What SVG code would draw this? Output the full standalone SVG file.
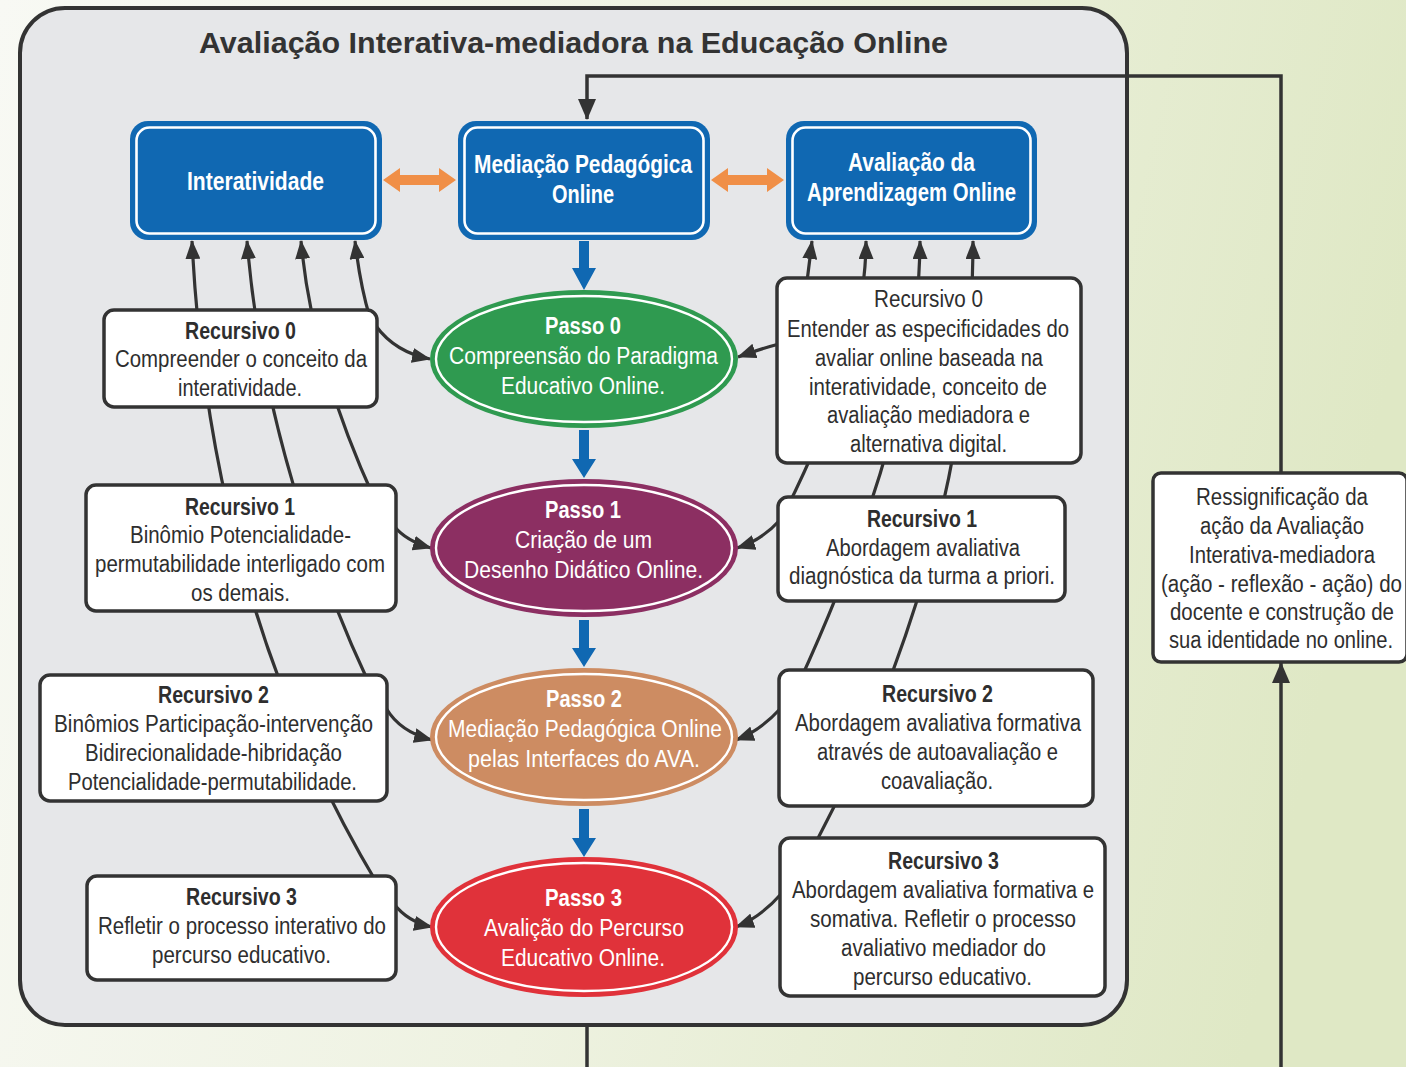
<svg xmlns="http://www.w3.org/2000/svg" width="1406" height="1067" viewBox="0 0 1406 1067">
<defs>
<linearGradient id="bg" gradientUnits="userSpaceOnUse" x1="0" y1="0" x2="1406" y2="300">
<stop offset="0" stop-color="#f8f9f4"/>
<stop offset="0.5" stop-color="#eef2e1"/>
<stop offset="1" stop-color="#dfe8c5"/>
</linearGradient>
<marker id="ah" markerUnits="userSpaceOnUse" viewBox="0 0 19 15" markerWidth="19" markerHeight="15" refX="18" refY="7.5" orient="auto"><path d="M0,0 L19,7.5 L0,15 z" fill="#333"/></marker>
<marker id="ahL" markerUnits="userSpaceOnUse" viewBox="0 0 21 18" markerWidth="21" markerHeight="18" refX="20" refY="9" orient="auto"><path d="M0,0 L21,9 L0,18 z" fill="#333"/></marker>
<style>
.t{font-family:"Liberation Sans Narrow","Liberation Sans",Arial,sans-serif;font-size:23px;fill:#2e2e2e}
.b{font-weight:bold}
.w{fill:#ffffff}
.hd{font-size:25px;font-weight:bold;fill:#ffffff}
.box{fill:#ffffff;stroke:#333333;stroke-width:3.5}
.blue{fill:#1068b2}
.inner{fill:none;stroke:#ffffff;stroke-width:2.6}
.con{fill:none;stroke:#333333;stroke-width:3.2}
.fb{fill:none;stroke:#333333;stroke-width:3.5}
.barrow{fill:#1068b2}
.oarrow{fill:#f08f47}
</style>
</defs>
<rect x="0" y="0" width="1406" height="1067" fill="url(#bg)"/>
<rect id="frame" x="20" y="8" width="1107" height="1017" rx="45" ry="45" fill="#e6e7e9" stroke="#333333" stroke-width="4"/>
<text class="t b" x="199" y="53" style="font-size:29px;fill:#333" textLength="749" lengthAdjust="spacingAndGlyphs">Avaliação Interativa-mediadora na Educação Online</text>

<g id="connectors">
<path class="fb" d="M1281,473 L1281,76 L587,76 L587,119" marker-end="url(#ahL)"/>
<path class="fb" d="M587,1025 L587,1067"/>
<path class="fb" d="M1281,1067 L1281,663" marker-end="url(#ahL)"/>
<path class="con" d="M378,885 Q210,605 192,241" marker-end="url(#ah)"/>
<path class="con" d="M372,690 Q265,462 247,241" marker-end="url(#ah)"/>
<path class="con" d="M375,500 Q312,363 301,241" marker-end="url(#ah)"/>
<path class="con" d="M370,318 Q360,285 355,241" marker-end="url(#ah)"/>
<path class="con" d="M376,326 Q395,352 430,359" marker-end="url(#ah)"/>
<path class="con" d="M394,526 Q406,541 431,548" marker-end="url(#ah)"/>
<path class="con" d="M386,708 Q400,732 432,740" marker-end="url(#ah)"/>
<path class="con" d="M394,904 Q408,922 432,927" marker-end="url(#ah)"/>
<path class="con" d="M812,850 Q973,546 973,241" marker-end="url(#ah)"/>
<path class="con" d="M798,685 Q920,420 920,241" marker-end="url(#ah)"/>
<path class="con" d="M786,510 Q866,350 866,241" marker-end="url(#ah)"/>
<path class="con" d="M806,290 L812,241" marker-end="url(#ah)"/>
<path class="con" d="M779,344 Q760,349 738,357" marker-end="url(#ah)"/>
<path class="con" d="M780,520 Q762,540 737,548" marker-end="url(#ah)"/>
<path class="con" d="M781,708 Q760,731 736,740" marker-end="url(#ah)"/>
<path class="con" d="M782,893 Q760,918 736,927" marker-end="url(#ah)"/>
<polygon class="barrow" points="579,241 589,241 589,268 596,268 584,290 572,268 579,268"/>
<polygon class="barrow" points="579,430 589,430 589,459 596,459 584,478 572,459 579,459"/>
<polygon class="barrow" points="579,620 589,620 589,648 596,648 584,667 572,648 579,648"/>
<polygon class="barrow" points="579,809 589,809 589,838 596,838 584,857 572,838 579,838"/>
<polygon class="oarrow" points="383,180 400,168 400,175 439,175 439,168 456,180 439,192 439,185 400,185 400,192"/>
<polygon class="oarrow" points="711,180 728,168 728,175 767,175 767,168 784,180 767,192 767,185 728,185 728,192"/>
</g>

<g id="interatividade">
<rect class="blue" x="130" y="121" width="252" height="119" rx="18"/>
<rect class="inner" x="136.5" y="127.5" width="239" height="106" rx="13"/>
<text class="t hd" x="187" y="190" textLength="137" lengthAdjust="spacingAndGlyphs">Interatividade</text>
</g>
<g id="mediacao">
<rect class="blue" x="458" y="121" width="252" height="119" rx="18"/>
<rect class="inner" x="464.5" y="127.5" width="239" height="106" rx="13"/>
<text class="t hd" x="474" y="173" textLength="218" lengthAdjust="spacingAndGlyphs">Mediação Pedagógica</text>
<text class="t hd" x="552" y="203" textLength="62" lengthAdjust="spacingAndGlyphs">Online</text>
</g>
<g id="avaliacao">
<rect class="blue" x="786" y="121" width="251" height="119" rx="18"/>
<rect class="inner" x="792.5" y="127.5" width="238" height="106" rx="13"/>
<text class="t hd" x="848" y="171" textLength="127" lengthAdjust="spacingAndGlyphs">Avaliação da</text>
<text class="t hd" x="807" y="201" textLength="209" lengthAdjust="spacingAndGlyphs">Aprendizagem Online</text>
</g>

<g id="passo0">
<ellipse cx="584" cy="359" rx="154" ry="69" fill="#2f9a50"/>
<ellipse cx="584" cy="359" rx="148" ry="63" fill="none" stroke="#fff" stroke-width="2.4"/>
<text class="t b w" x="545" y="334" textLength="76" lengthAdjust="spacingAndGlyphs">Passo 0</text>
<text class="t w" x="449" y="364" textLength="269" lengthAdjust="spacingAndGlyphs">Compreensão do Paradigma</text>
<text class="t w" x="501" y="394" textLength="164" lengthAdjust="spacingAndGlyphs">Educativo Online.</text>
</g>
<g id="passo1">
<ellipse cx="584" cy="548" rx="154" ry="69" fill="#8c2f62"/>
<ellipse cx="584" cy="548" rx="148" ry="63" fill="none" stroke="#fff" stroke-width="2.4"/>
<text class="t b w" x="545" y="518" textLength="76" lengthAdjust="spacingAndGlyphs">Passo 1</text>
<text class="t w" x="515" y="548" textLength="137" lengthAdjust="spacingAndGlyphs">Criação de um</text>
<text class="t w" x="464" y="578" textLength="239" lengthAdjust="spacingAndGlyphs">Desenho Didático Online.</text>
</g>
<g id="passo2">
<ellipse cx="584" cy="737" rx="154" ry="69" fill="#cd8c62"/>
<ellipse cx="584" cy="737" rx="148" ry="63" fill="none" stroke="#fff" stroke-width="2.4"/>
<text class="t b w" x="546" y="707" textLength="76" lengthAdjust="spacingAndGlyphs">Passo 2</text>
<text class="t w" x="448" y="737" textLength="274" lengthAdjust="spacingAndGlyphs">Mediação Pedagógica Online</text>
<text class="t w" x="468" y="767" textLength="232" lengthAdjust="spacingAndGlyphs">pelas Interfaces do AVA.</text>
</g>
<g id="passo3">
<ellipse cx="584" cy="927" rx="154" ry="70" fill="#e0323a"/>
<ellipse cx="584" cy="927" rx="148" ry="64" fill="none" stroke="#fff" stroke-width="2.4"/>
<text class="t b w" x="545" y="906" textLength="77" lengthAdjust="spacingAndGlyphs">Passo 3</text>
<text class="t w" x="484" y="936" textLength="200" lengthAdjust="spacingAndGlyphs">Avalição do Percurso</text>
<text class="t w" x="501" y="966" textLength="164" lengthAdjust="spacingAndGlyphs">Educativo Online.</text>
</g>

<g id="rec0-left">
<rect class="box" x="104" y="310" width="273" height="97" rx="10"/>
<text class="t b" x="185" y="339" textLength="111" lengthAdjust="spacingAndGlyphs">Recursivo 0</text>
<text class="t" x="115" y="367" textLength="252" lengthAdjust="spacingAndGlyphs">Compreender o conceito da</text>
<text class="t" x="178" y="396" textLength="124" lengthAdjust="spacingAndGlyphs">interatividade.</text>
</g>
<g id="rec1-left">
<rect class="box" x="86" y="485" width="310" height="126" rx="10"/>
<text class="t b" x="185" y="515" textLength="110" lengthAdjust="spacingAndGlyphs">Recursivo 1</text>
<text class="t" x="130" y="543" textLength="221" lengthAdjust="spacingAndGlyphs">Binômio Potencialidade-</text>
<text class="t" x="95" y="572" textLength="290" lengthAdjust="spacingAndGlyphs">permutabilidade interligado com</text>
<text class="t" x="191" y="601" textLength="99" lengthAdjust="spacingAndGlyphs">os demais.</text>
</g>
<g id="rec2-left">
<rect class="box" x="40" y="675" width="347" height="126" rx="10"/>
<text class="t b" x="158" y="703" textLength="111" lengthAdjust="spacingAndGlyphs">Recursivo 2</text>
<text class="t" x="54" y="732" textLength="319" lengthAdjust="spacingAndGlyphs">Binômios Participação-intervenção</text>
<text class="t" x="85" y="761" textLength="257" lengthAdjust="spacingAndGlyphs">Bidirecionalidade-hibridação</text>
<text class="t" x="68" y="790" textLength="289" lengthAdjust="spacingAndGlyphs">Potencialidade-permutabilidade.</text>
</g>
<g id="rec3-left">
<rect class="box" x="87" y="876" width="309" height="104" rx="10"/>
<text class="t b" x="186" y="905" textLength="111" lengthAdjust="spacingAndGlyphs">Recursivo 3</text>
<text class="t" x="98" y="934" textLength="288" lengthAdjust="spacingAndGlyphs">Refletir o processo interativo do</text>
<text class="t" x="152" y="963" textLength="179" lengthAdjust="spacingAndGlyphs">percurso educativo.</text>
</g>

<g id="rec0-right">
<rect class="box" x="777" y="278" width="304" height="185" rx="10"/>
<text class="t" x="874" y="307" textLength="109" lengthAdjust="spacingAndGlyphs">Recursivo 0</text>
<text class="t" x="787" y="337" textLength="282" lengthAdjust="spacingAndGlyphs">Entender as especificidades do</text>
<text class="t" x="815" y="366" textLength="228" lengthAdjust="spacingAndGlyphs">avaliar online baseada na</text>
<text class="t" x="809" y="395" textLength="238" lengthAdjust="spacingAndGlyphs">interatividade, conceito de</text>
<text class="t" x="827" y="423" textLength="203" lengthAdjust="spacingAndGlyphs">avaliação mediadora e</text>
<text class="t" x="850" y="452" textLength="157" lengthAdjust="spacingAndGlyphs">alternativa digital.</text>
</g>
<g id="rec1-right">
<rect class="box" x="778" y="497" width="287" height="104" rx="10"/>
<text class="t b" x="867" y="527" textLength="110" lengthAdjust="spacingAndGlyphs">Recursivo 1</text>
<text class="t" x="826" y="556" textLength="194" lengthAdjust="spacingAndGlyphs">Abordagem avaliativa</text>
<text class="t" x="789" y="584" textLength="266" lengthAdjust="spacingAndGlyphs">diagnóstica da turma a priori.</text>
</g>
<g id="rec2-right">
<rect class="box" x="779" y="670" width="314" height="136" rx="10"/>
<text class="t b" x="882" y="702" textLength="111" lengthAdjust="spacingAndGlyphs">Recursivo 2</text>
<text class="t" x="795" y="731" textLength="286" lengthAdjust="spacingAndGlyphs">Abordagem avaliativa formativa</text>
<text class="t" x="817" y="760" textLength="241" lengthAdjust="spacingAndGlyphs">através de autoavaliação e</text>
<text class="t" x="881" y="789" textLength="112" lengthAdjust="spacingAndGlyphs">coavaliação.</text>
</g>
<g id="rec3-right">
<rect class="box" x="780" y="838" width="325" height="158" rx="10"/>
<text class="t b" x="888" y="869" textLength="111" lengthAdjust="spacingAndGlyphs">Recursivo 3</text>
<text class="t" x="792" y="898" textLength="302" lengthAdjust="spacingAndGlyphs">Abordagem avaliativa formativa e</text>
<text class="t" x="810" y="927" textLength="266" lengthAdjust="spacingAndGlyphs">somativa. Refletir o processo</text>
<text class="t" x="841" y="956" textLength="205" lengthAdjust="spacingAndGlyphs">avaliativo mediador do</text>
<text class="t" x="853" y="985" textLength="179" lengthAdjust="spacingAndGlyphs">percurso educativo.</text>
</g>

<g id="ressignificacao">
<rect class="box" x="1153" y="473" width="254" height="189" rx="8"/>
<text class="t" x="1196" y="505" textLength="172" lengthAdjust="spacingAndGlyphs">Ressignificação da</text>
<text class="t" x="1200" y="534" textLength="164" lengthAdjust="spacingAndGlyphs">ação da Avaliação</text>
<text class="t" x="1189" y="563" textLength="186" lengthAdjust="spacingAndGlyphs">Interativa-mediadora</text>
<text class="t" x="1161" y="592" textLength="241" lengthAdjust="spacingAndGlyphs">(ação - reflexão - ação) do</text>
<text class="t" x="1170" y="620" textLength="224" lengthAdjust="spacingAndGlyphs">docente e construção de</text>
<text class="t" x="1169" y="648" textLength="224" lengthAdjust="spacingAndGlyphs">sua identidade no online.</text>
</g>
</svg>
